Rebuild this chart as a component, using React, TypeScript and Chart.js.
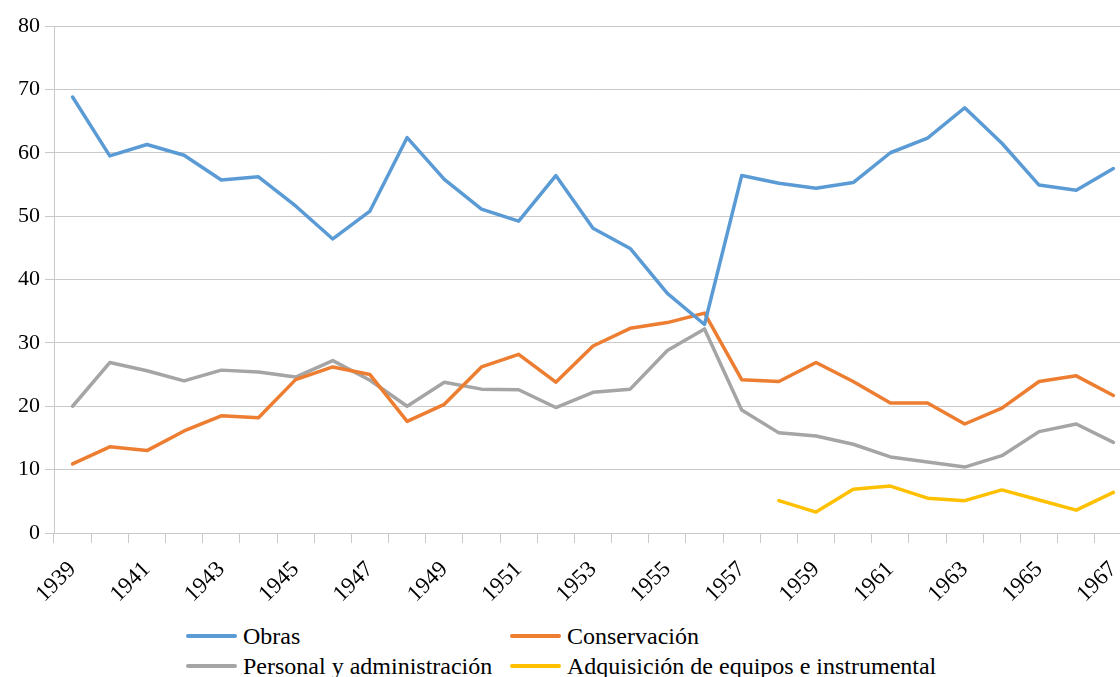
import React, { useEffect, useRef } from "react";
import { Chart, registerables } from "chart.js";

Chart.register(...registerables);

const years: string[] = [
  "1939", "1940", "1941", "1942", "1943", "1944", "1945", "1946", "1947", "1948",
  "1949", "1950", "1951", "1952", "1953", "1954", "1955", "1956", "1957", "1958",
  "1959", "1960", "1961", "1962", "1963", "1964", "1965", "1966", "1967",
];

const obras: number[] = [
  68.8, 59.5, 61.3, 59.6, 55.7, 56.2, 51.6, 46.4, 50.8, 62.4,
  55.8, 51.1, 49.2, 56.4, 48.1, 44.9, 37.8, 32.9, 56.4, 55.2,
  54.4, 55.3, 60.0, 62.3, 67.1, 61.5, 54.9, 54.1, 57.5,
];

const conservacion: number[] = [
  10.9, 13.6, 13.0, 16.1, 18.5, 18.2, 24.2, 26.2, 25.0, 17.6,
  20.3, 26.2, 28.2, 23.8, 29.5, 32.3, 33.2, 34.7, 24.2, 23.9,
  26.9, 23.9, 20.5, 20.5, 17.2, 19.7, 23.9, 24.8, 21.7,
];

const personal: number[] = [
  20.0, 26.9, 25.6, 24.0, 25.7, 25.4, 24.6, 27.2, 24.1, 20.0,
  23.8, 22.7, 22.6, 19.8, 22.2, 22.7, 28.8, 32.2, 19.4, 15.8,
  15.3, 14.0, 12.0, 11.2, 10.4, 12.2, 16.0, 17.2, 14.3,
];

const adquisicion: (number | null)[] = [
  null, null, null, null, null, null, null, null, null, null,
  null, null, null, null, null, null, null, null, null, 5.1,
  3.3, 6.9, 7.4, 5.5, 5.1, 6.8, 5.2, 3.6, 6.4,
];

const seriesNames: string[] = [
  "Obras",
  "Conservación",
  "Personal y administración",
  "Adquisición de equipos e instrumental",
];

const seriesColors: string[] = ["#5B9BD5", "#ED7D31", "#A5A5A5", "#FFC000"];

const FONT = "'Liberation Serif', 'DejaVu Serif', serif";
const GRID = "#C9C9C9";

export default function App() {
  const canvasRef = useRef<HTMLCanvasElement | null>(null);

  useEffect(() => {
    const canvas = canvasRef.current;
    if (!canvas) return;
    const seriesData = [obras, conservacion, personal, adquisicion];
    const chart = new Chart(canvas, {
      type: "line",
      data: {
        labels: years,
        datasets: seriesNames.map((name, i) => ({
          label: name,
          data: seriesData[i],
          borderColor: seriesColors[i],
          backgroundColor: seriesColors[i],
          borderWidth: 3.5,
          pointRadius: 0,
          pointHoverRadius: 0,
          tension: 0,
          spanGaps: false,
          borderCapStyle: "round" as const,
          borderJoinStyle: "round" as const,
        })),
      },
      options: {
        responsive: false,
        animation: false,
        devicePixelRatio: 1,
        layout: { padding: { top: 26, right: 2, left: 0, bottom: 0 } },
        plugins: {
          legend: { display: false },
          tooltip: { enabled: false },
        },
        scales: {
          x: {
            offset: true,
            grid: {
              display: true,
              offset: true,
              drawOnChartArea: false,
              drawTicks: true,
              tickLength: 10,
              color: GRID,
            },
            border: { display: true, color: GRID },
            ticks: {
              autoSkip: false,
              maxRotation: 45,
              minRotation: 45,
              padding: 13,
              color: "#000",
              font: { family: FONT, size: 23 },
              callback: (_v: any, idx: number) => (idx % 2 === 0 ? years[idx] : ""),
            },
            afterFit: (scale: any) => {
              scale.height = 82;
              scale.paddingRight = 0;
              scale.paddingLeft = 0;
            },
          },
          y: {
            min: 0,
            max: 80,
            grid: {
              color: GRID,
              drawTicks: true,
              tickLength: 9,
            },
            border: { display: true, color: GRID },
            ticks: {
              stepSize: 10,
              padding: 5,
              color: "#000",
              font: { family: FONT, size: 22 },
            },
            afterFit: (scale: any) => {
              scale.width = 54;
            },
          },
        },
      },
    });
    return () => chart.destroy();
  }, []);

  const legendCols = [186, 510];
  const legendRows = [636, 666];

  return (
    <div
      style={{
        position: "fixed",
        left: 0,
        top: 0,
        width: 1120,
        height: 677,
        overflow: "hidden",
        background: "#fff",
      }}
    >
      <canvas
        ref={canvasRef}
        width={1134}
        height={615}
        style={{ position: "absolute", left: 0, top: 0, width: 1134, height: 615 }}
      />
      {seriesNames.map((name, i) => (
        <div
          key={name}
          style={{
            position: "absolute",
            left: legendCols[i % 2],
            top: legendRows[Math.floor(i / 2)] - 14,
            height: 28,
            display: "flex",
            alignItems: "center",
            whiteSpace: "nowrap",
          }}
        >
          <span
            style={{
              display: "inline-block",
              width: 51,
              height: 4,
              borderRadius: 2,
              background: seriesColors[i],
              marginRight: 6,
            }}
          />
          <span style={{ fontFamily: FONT, fontSize: 24, color: "#000", lineHeight: "28px" }}>
            {name}
          </span>
        </div>
      ))}
    </div>
  );
}
